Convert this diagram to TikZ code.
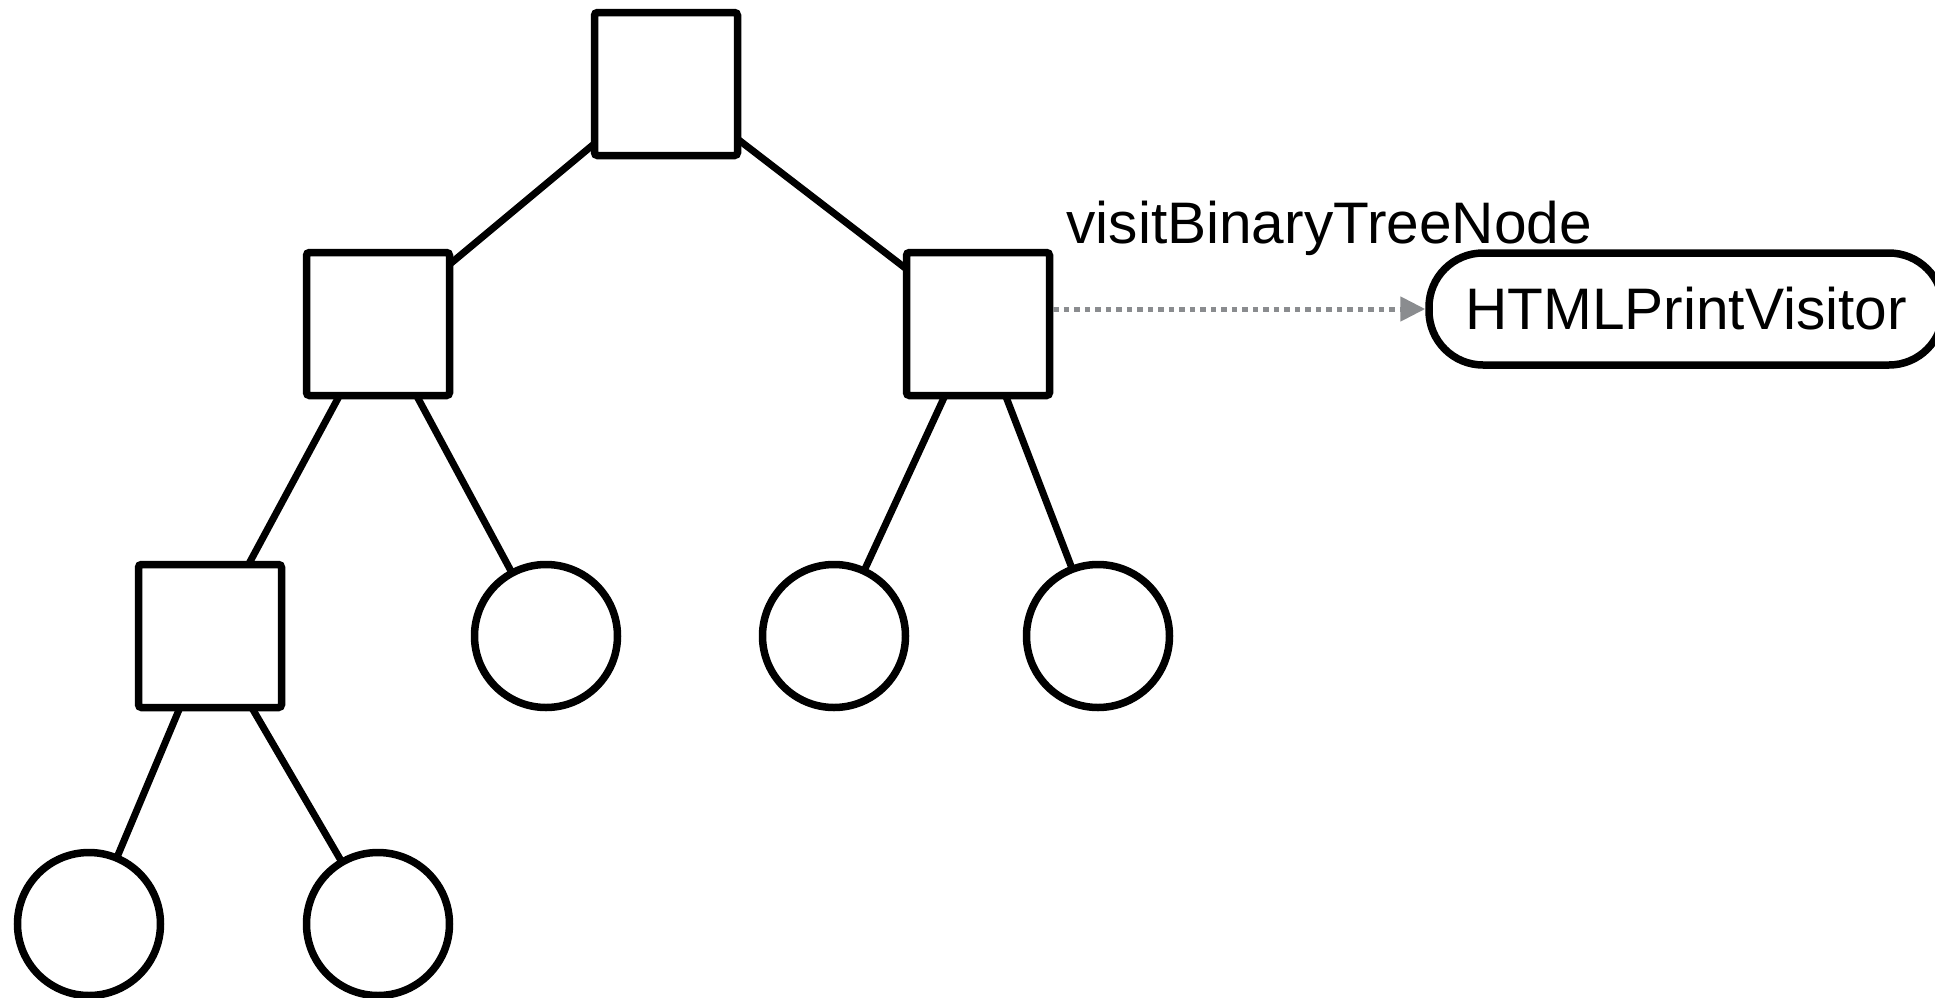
\documentclass[tikz,border=0pt]{standalone}
\usepackage{fontspec}
\setmainfont{Liberation Sans}
\usetikzlibrary{arrows.meta}
\definecolor{arrowgray}{RGB}{138,140,143}
\begin{document}
\begin{tikzpicture}[x=0.5pt,y=-0.5pt,
  treebox/.style={draw=black,line width=3.75pt,fill=white,minimum size=71.5pt,inner sep=0pt,rounded corners=1.5pt},
  leaf/.style={circle,draw=black,line width=3.75pt,fill=white,minimum size=71.5pt,inner sep=0pt},
  visitor/.style={draw=black,line width=3.75pt,fill=white,rounded corners=27pt,minimum width=257pt,minimum height=56pt,inner sep=0pt,font=\fontsize{29.3}{34}\selectfont},
  edge/.style={draw=black,line width=3.5pt},
  call/.style={draw=arrowgray,line width=2.5pt,dash pattern=on 2.75pt off 2.5pt,-{Triangle[length=12.5pt,width=12pt,fill=arrowgray]}},
  lbl/.style={font=\fontsize{29.3}{34}\selectfont,inner sep=0pt}]
\useasboundingbox (0,0) rectangle (1935,997);
% edges first (under nodes)
\coordinate (pRoot) at (666,84);
\coordinate (pL) at (378,324);
\coordinate (pR) at (978,324);
\coordinate (pLL) at (210,636);
\coordinate (pLR) at (546,636);
\coordinate (pRL) at (834,636);
\coordinate (pRR) at (1098,636);
\coordinate (pLLL) at (89,924);
\coordinate (pLLR) at (378,924);
\path[edge] (pRoot) -- (pL);
\path[edge] (pRoot) -- (pR);
\path[edge] (pL) -- (pLL);
\path[edge] (pL) -- (pLR);
\path[edge] (pR) -- (pRL);
\path[edge] (pR) -- (pRR);
\path[edge] (pLL) -- (pLLL);
\path[edge] (pLL) -- (pLLR);
% nodes
\node[treebox] (root) at (pRoot) {};
\node[treebox] (L) at (pL) {};
\node[treebox] (R) at (pR) {};
\node[treebox] (LL) at (pLL) {};
\node[leaf] (LR) at (pLR) {};
\node[leaf] (RL) at (pRL) {};
\node[leaf] (RR) at (pRR) {};
\node[leaf] (LLL) at (pLLL) {};
\node[leaf] (LLR) at (pLLR) {};
\node[visitor] (H) at (1686,309) {HTMLPrintVisitor};
\draw[call] (R.east |- H.west) -- (H.west);
\node[lbl,anchor=base west] (msg) at (1066,243) {visitBinaryTreeNode};
\end{tikzpicture}
\end{document}
